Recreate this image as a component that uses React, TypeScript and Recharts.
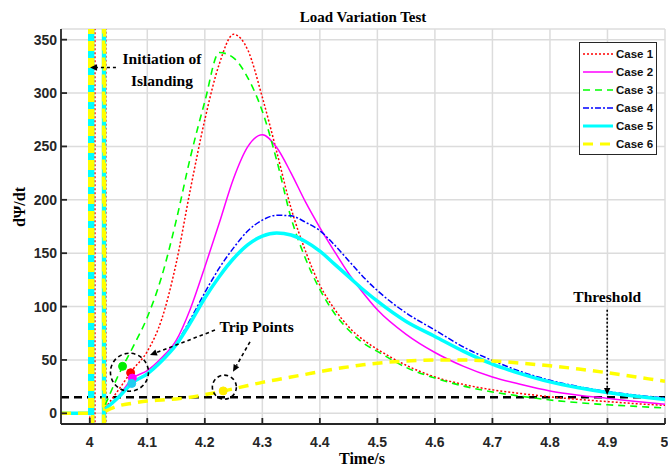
import { LineChart, Line, XAxis, YAxis, CartesianGrid, ReferenceLine, ReferenceDot, Legend } from 'recharts'

// time axis (s) for the smooth part of every case, after islanding
const times = [4.027, 4.05, 4.075, 4.1, 4.125, 4.15, 4.175, 4.2, 4.225, 4.25, 4.275, 4.3, 4.325, 4.35, 4.375, 4.4, 4.425, 4.45, 4.475, 4.5, 4.55, 4.6, 4.65, 4.7, 4.75, 4.8, 4.85, 4.9, 4.95, 5.0]

const case1 = [5, 22, 41, 58, 88, 140, 210, 275, 327, 355, 340, 296, 245, 192, 152, 120, 98, 81, 69, 60, 45, 34, 27, 22, 18.5, 15.5, 13, 11, 9, 7.5]
const case2 = [3, 16, 33, 40, 52, 68, 98, 137, 178, 220, 250, 261, 249, 225, 198, 174, 152, 131, 113, 97, 74, 57, 44, 34, 27, 21, 17, 14, 11, 8.5]
const case3 = [8, 36, 62, 90, 128, 180, 240, 292, 338, 333, 314, 283, 237, 183, 145, 116, 94, 78, 66, 58, 43, 33, 25.5, 20, 16, 12.5, 10, 8, 6.5, 5]
const case4 = [4, 15, 28.5, 37, 49, 65, 88, 113, 136, 155, 171, 181, 185.5, 185, 179, 171, 158, 143, 128, 115, 94, 78, 62, 49.5, 39, 31, 25, 20.5, 17, 14.5]
const case5 = [4, 15, 29, 37, 49, 64, 85, 108, 128, 145, 158, 166, 169, 167, 161, 152, 140, 128, 116, 105, 86, 72, 58, 46, 37, 29.5, 24, 19.5, 16, 13]
const case6 = [2, 7, 9.5, 11.5, 12.5, 13.5, 15, 17.5, 20, 23, 26, 29, 31.5, 34, 36.5, 39, 41.5, 43.5, 45.5, 47, 49, 50, 50, 49, 47, 44.5, 41.5, 38, 34, 30]

// transient spikes at the initiation of islanding
const spikeTimes = [3.95, 4.0, 4.0, 4.005, 4.005, 4.024, 4.024, 4.0255, 4.0255]
const spikeValues = [0, 0, 900, 900, -200, -200, 900, 900, -200]
const redSpikeTimes = [3.95, 4.0, 4.0, 4.009, 4.009, 4.028, 4.028]
const redSpikeValues = [0, 0, -200, -200, 900, 900, -200]

// trip points (case 1, 2, 3, 5, 6)
const tripTimes = [4.071, 4.074, 4.057, 4.073, 4.232]
const tripValues = [38, 33, 44, 28, 21]

const threshold = 15
const xTicks = [4, 4.1, 4.2, 4.3, 4.4, 4.5, 4.6, 4.7, 4.8, 4.9, 5]
const yTicks = [0, 50, 100, 150, 200, 250, 300, 350]

const zip = (ts: number[], vs: number[]) => ts.map((t, i) => ({ t, v: vs[i] }))

const series = [
  { name: 'Case 1', data: case1, color: '#ff0000', width: 1.5, dash: '2 2' },
  { name: 'Case 2', data: case2, color: '#ff00ff', width: 1.5, dash: undefined },
  { name: 'Case 3', data: case3, color: '#00ff00', width: 1.6, dash: '7 5' },
  { name: 'Case 4', data: case4, color: '#0000ff', width: 1.5, dash: '6 2 2 2' },
  { name: 'Case 5', data: case5, color: '#00ffff', width: 3.5, dash: undefined },
  { name: 'Case 6', data: case6, color: '#ffff00', width: 3.5, dash: '10 7' },
]

const tripColors = ['#ff0000', '#ff00ff', '#00ee00', '#22ccf0', '#ffee00']
const tripOrder = [2, 0, 1, 3, 4]

const serif = "'Liberation Serif', 'Times New Roman', serif"
const sans = "'Liberation Sans', Arial, sans-serif"
const axisColor = '#262626'

const Arrow = (props: any) => {
  const { x1, y1, x2, y2, strokeDasharray } = props
  const ang = Math.atan2(y2 - y1, x2 - x1)
  const L = 7
  const W = 3.2
  const bx = x2 - L * Math.cos(ang)
  const by = y2 - L * Math.sin(ang)
  const p1 = `${bx + W * Math.sin(ang)},${by - W * Math.cos(ang)}`
  const p2 = `${bx - W * Math.sin(ang)},${by + W * Math.cos(ang)}`
  return (
    <g>
      <line x1={x1} y1={y1} x2={bx} y2={by} stroke="#000" strokeWidth={1.6} strokeDasharray={strokeDasharray} />
      <polygon points={`${x2},${y2} ${p1} ${p2}`} fill="#000" />
    </g>
  )
}

const LegendBox = () => (
  <div
    style={{
      width: 76,
      height: 109,
      border: `1.5px solid ${axisColor}`,
      background: '#fff',
      paddingTop: 2,
      boxSizing: 'content-box',
    }}
  >
    {series.map(s => (
      <div key={s.name} style={{ display: 'flex', alignItems: 'center', height: 18 }}>
        <svg width={36} height={18}>
          <line x1={3} y1={9} x2={33} y2={9} stroke={s.color} strokeWidth={Math.min(s.width, 3)} strokeDasharray={s.dash} />
        </svg>
        <span style={{ fontFamily: sans, fontWeight: 'bold', fontSize: 11.5, color: '#111' }}>{s.name}</span>
      </div>
    ))}
  </div>
)

const annText = { fill: '#000', fontSize: 15.5, fontWeight: 'bold', fontFamily: serif }

export default function App() {
  return (
    <div style={{ position: 'absolute', left: 0, top: 0, width: 668, height: 470, background: '#fff' }}>
      <LineChart width={668} height={470} margin={{ top: 29, right: 3, bottom: 0, left: 0 }}>
        <CartesianGrid stroke="#dcdcdc" strokeWidth={1.5} />
        <XAxis
          type="number"
          dataKey="t"
          domain={[3.95, 5.0]}
          ticks={xTicks}
          allowDataOverflow
          height={46}
          stroke={axisColor}
          strokeWidth={1.8}
          tickSize={-6}
          tickMargin={19}
          tick={{ fill: axisColor, fontSize: 14, fontWeight: 'bold', fontFamily: sans }}
        />
        <XAxis
          xAxisId="top"
          orientation="top"
          type="number"
          dataKey="t"
          domain={[3.95, 5.0]}
          ticks={xTicks}
          allowDataOverflow
          height={0}
          stroke={axisColor}
          strokeWidth={1.8}
          tickSize={-6}
          tick={false}
        />
        <YAxis
          type="number"
          domain={[-10, 360]}
          ticks={yTicks}
          allowDataOverflow
          width={61}
          stroke={axisColor}
          strokeWidth={1.8}
          tickSize={-6}
          tickMargin={10}
          tick={{ fill: axisColor, fontSize: 14, fontWeight: 'bold', fontFamily: sans }}
        />
        <YAxis
          yAxisId="right"
          orientation="right"
          type="number"
          domain={[-10, 360]}
          ticks={yTicks}
          allowDataOverflow
          width={0}
          stroke={axisColor}
          strokeWidth={1.8}
          tickSize={-6}
          tick={false}
        />

        <ReferenceLine y={threshold} stroke="#000" strokeWidth={2.5} strokeDasharray="8 5" />

        <Line data={zip(redSpikeTimes, redSpikeValues)} dataKey="v" type="linear" stroke="#ff0000" strokeWidth={1.5} strokeDasharray="2 2" dot={false} activeDot={false} legendType="none" isAnimationActive={false} />
        <Line data={zip(spikeTimes, spikeValues)} dataKey="v" type="linear" stroke="#00ffff" strokeWidth={3.5} dot={false} activeDot={false} legendType="none" isAnimationActive={false} />
        <Line data={zip(spikeTimes, spikeValues)} dataKey="v" type="linear" stroke="#ffff00" strokeWidth={3.5} strokeDasharray="10 7" dot={false} activeDot={false} legendType="none" isAnimationActive={false} />

        {series.map(s => (
          <Line
            key={s.name}
            name={s.name}
            data={zip(times, s.data)}
            dataKey="v"
            type="monotone"
            stroke={s.color}
            strokeWidth={s.width}
            strokeDasharray={s.dash}
            dot={false}
            activeDot={false}
            isAnimationActive={false}
          />
        ))}

        {tripOrder.map(i => (
          <ReferenceDot key={'trip' + i} x={tripTimes[i]} y={tripValues[i]} r={4} fill={tripColors[i]} stroke={tripColors[i]} />
        ))}

        <ReferenceDot x={4.069} y={38.5} r={19} fill="none" stroke="#000" strokeWidth={1.6} strokeDasharray="4 3" />
        <ReferenceDot x={4.234} y={24.5} r={12} fill="none" stroke="#000" strokeWidth={1.6} strokeDasharray="4 3" />

        <ReferenceLine segment={[{ x: 4.0455, y: 324 }, { x: 4.0005, y: 324 }]} strokeDasharray="3 3" shape={Arrow} />
        <ReferenceLine segment={[{ x: 4.2177, y: 78 }, { x: 4.1047, y: 54.6 }]} strokeDasharray="3.5 3" shape={Arrow} />
        <ReferenceLine segment={[{ x: 4.2785, y: 67 }, { x: 4.249, y: 39 }]} strokeDasharray="3.5 3" shape={Arrow} />
        <ReferenceLine segment={[{ x: 4.8995, y: 97 }, { x: 4.8995, y: 17.2 }]} strokeDasharray="2 2" shape={Arrow} />

        <ReferenceDot x={4.1255} y={332} r={0} fill="none" stroke="none" label={{ value: 'Initiation of', position: 'center', ...annText }} />
        <ReferenceDot x={4.1255} y={311.5} r={0} fill="none" stroke="none" label={{ value: 'Islanding', position: 'center', ...annText }} />
        <ReferenceDot x={4.29} y={81} r={0} fill="none" stroke="none" label={{ value: 'Trip Points', position: 'center', ...annText }} />
        <ReferenceDot x={4.8995} y={109} r={0} fill="none" stroke="none" label={{ value: 'Threshold', position: 'center', ...annText }} />

        <Legend
          layout="vertical"
          align="center"
          verticalAlign="middle"
          wrapperStyle={{ left: 579, top: 42, width: 79, height: 113 }}
          content={() => <LegendBox />}
        />
      </LineChart>

      <div style={{ position: 'absolute', left: 363, top: 7, transform: 'translateX(-50%)', fontFamily: serif, fontWeight: 'bold', fontSize: 15, lineHeight: '20px', whiteSpace: 'nowrap', color: '#000' }}>
        Load Variation Test
      </div>
      <div style={{ position: 'absolute', left: 362, top: 448, transform: 'translateX(-50%)', fontFamily: serif, fontWeight: 'bold', fontSize: 16, lineHeight: '22px', whiteSpace: 'nowrap', color: '#000' }}>
        Time/s
      </div>
      <div style={{ position: 'absolute', left: 20, top: 207, transform: 'translate(-50%, -50%) rotate(-90deg)', fontFamily: serif, fontWeight: 'bold', fontSize: 16, lineHeight: '20px', whiteSpace: 'nowrap', color: '#000' }}>
        dΨ/dt
      </div>
    </div>
  )
}
